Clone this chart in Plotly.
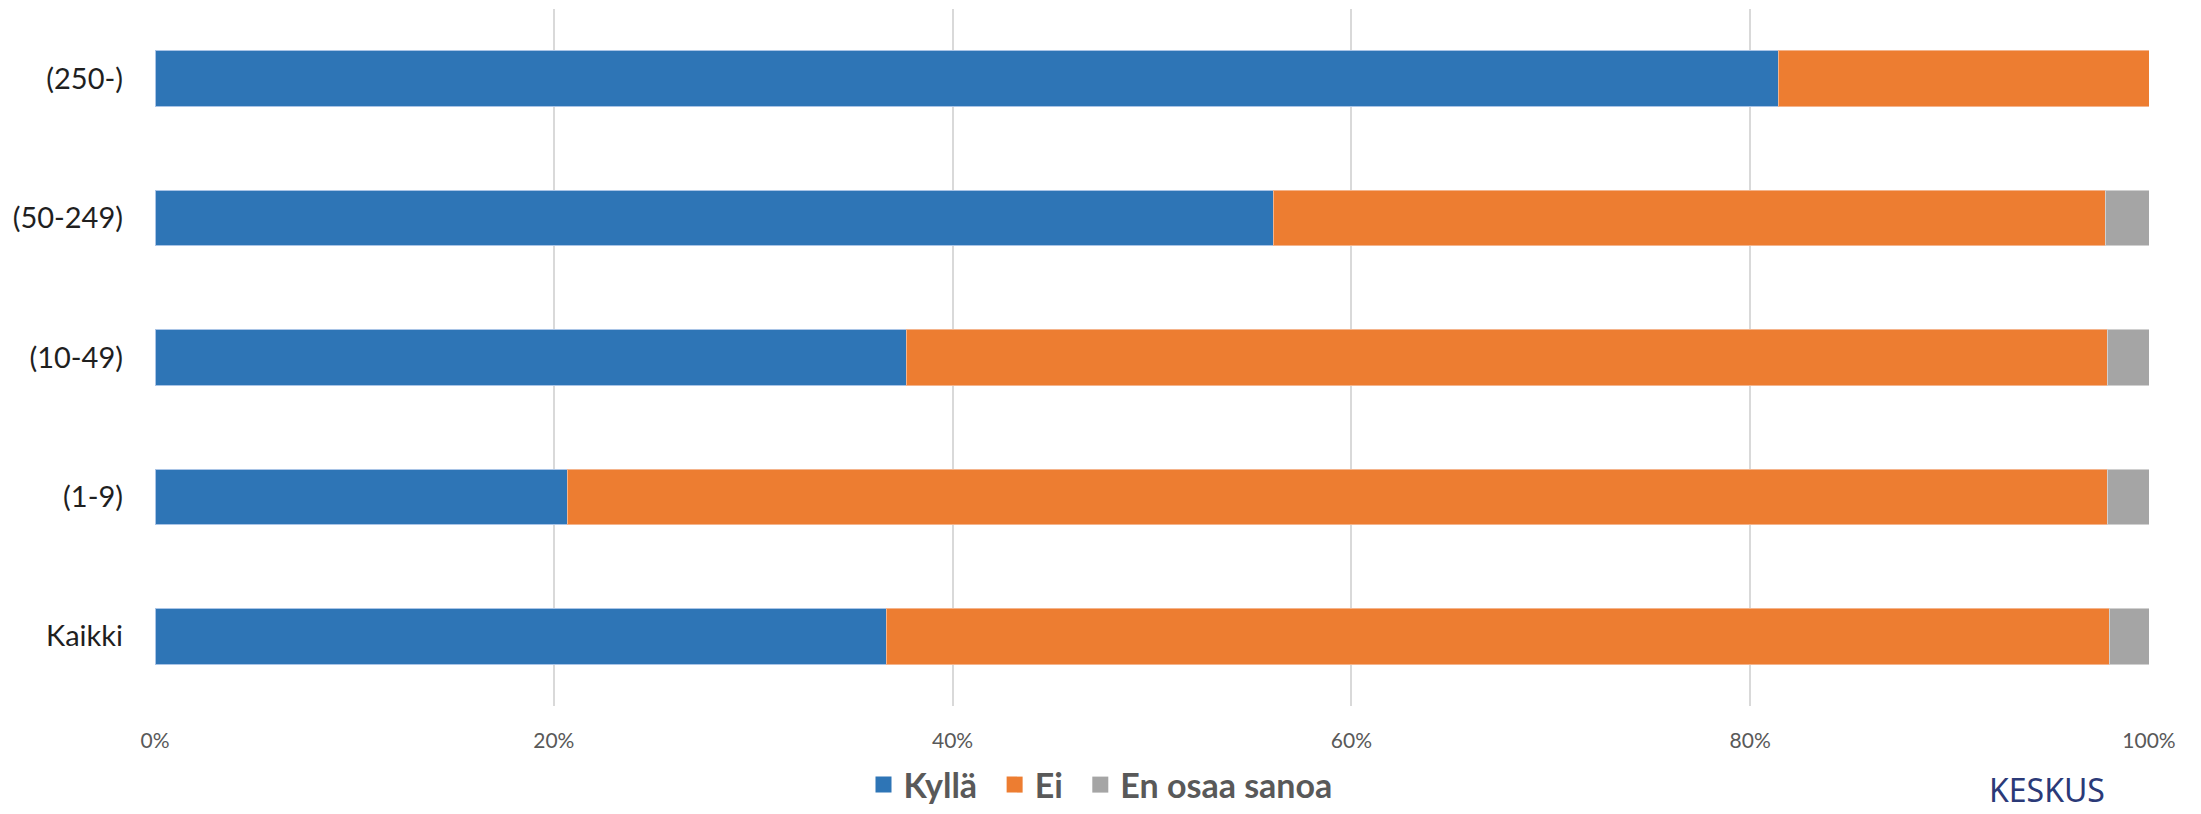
import plotly.graph_objects as go

categories = ["Kaikki", "(1-9)", "(10-49)", "(50-249)", "(250-)"]
kylla = [36.7, 20.7, 37.7, 56.1, 81.4]
ei = [61.3, 77.2, 60.2, 41.7, 18.6]
en_osaa = [2.0, 2.1, 2.1, 2.2, 0.0]
series_names = ["Kyllä", "Ei", "En osaa sanoa"]
colors = ["#2E75B6", "#ED7D31", "#A5A5A5"]
edge_colors = ["#A9C4E6", "#F4B48C", "#D0D0D0"]
x_ticks = [0, 20, 40, 60, 80, 100]
x_ticklabels = ["0%", "20%", "40%", "60%", "80%", "100%"]

fig = go.Figure()
for i, (name, vals, c, ec) in enumerate(zip(series_names, [kylla, ei, en_osaa], colors, edge_colors)):
    fig.add_trace(go.Bar(
        y=categories, x=vals, name=name, orientation="h",
        marker=dict(color=c, line=dict(color=ec, width=1)),
        showlegend=False,
    ))
    pad = "\u00a0\u2009" if i < len(series_names) - 1 else ""
    fig.add_trace(go.Scatter(
        x=[None], y=[None], mode="markers", name=name + pad,
        marker=dict(symbol="square", size=20, color=c),
        showlegend=True,
    ))

fig.update_layout(
    width=2201, height=814,
    barmode="stack", bargap=0.6,
    plot_bgcolor="white", paper_bgcolor="white",
    margin=dict(l=155, r=52, t=9, b=108, autoexpand=False),
    xaxis=dict(
        range=[0, 100], tickvals=x_ticks, ticktext=x_ticklabels,
        showgrid=True, gridcolor="#D9D9D9", gridwidth=2,
        zeroline=False, showline=False, ticks="", automargin=False,
        tickfont=dict(family="Lato", size=21, color="#595959"),
        ticklabelstandoff=20,
    ),
    yaxis=dict(
        categoryorder="array", categoryarray=categories,
        showgrid=False, zeroline=False, showline=False, ticks="", automargin=False,
        tickfont=dict(family="Lato", size=29, color="#1F1F1F"),
        ticklabelstandoff=31,
    ),
    legend=dict(
        orientation="h", xref="container", yref="container",
        x=0.5, xanchor="center", y=0.0, yanchor="bottom",
        font=dict(family="Lato", size=34, color="#595959", weight="bold"),
        itemsizing="trace", traceorder="normal", itemwidth=30,
    ),
    annotations=[dict(
        text="KESKUS", xref="paper", yref="paper", x=0.949, y=-0.155,
        xanchor="center", yanchor="bottom", showarrow=False, yshift=1,
        font=dict(family="Noto Sans", size=32, color="#2B3A78"),
    )],
)

fig.write_html(
    "out.html",
    config={"displayModeBar": False},
    post_script="document.body.style.margin='0';",
)
